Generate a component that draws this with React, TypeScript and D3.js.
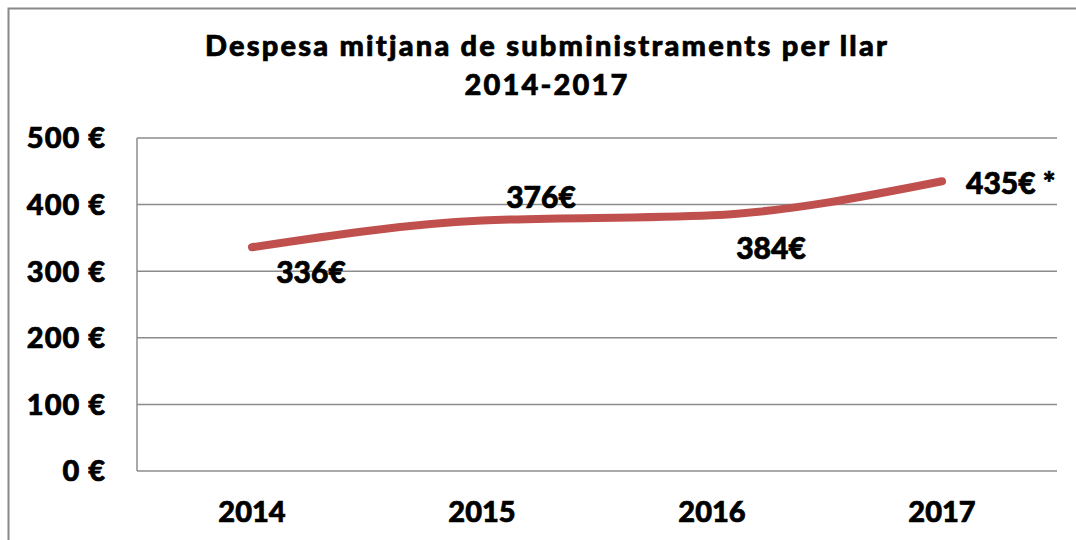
import React from "react";
import * as d3 from "d3";

const years = ["2014", "2015", "2016", "2017"];
const values = [336, 376, 384, 435];
const labels = ["336€", "376€", "384€", "435€ *"];
const yTicks = [0, 100, 200, 300, 400, 500];

const W = 1076, H = 540;
const left = 137, right = 1057, top = 138, bottom = 471;
const FONT = "Lato, 'Open Sans', sans-serif";
const WEIGHT = 900;
const bold = { stroke: "#000", strokeWidth: 0.7 };

export default function App() {
  const x = d3.scaleBand<string>().domain(years).range([left, right]);
  const y = d3.scaleLinear().domain([0, 500]).range([bottom, top]);
  const cx = (d: string) => (x(d) as number) + x.bandwidth() / 2;
  const line = d3
    .line<number>()
    .x((_, i) => cx(years[i]))
    .y((v) => y(v))
    .curve(d3.curveMonotoneX);
  const offs: [number, number, string][] = [
    [59, 25, "middle"],
    [59, -23, "middle"],
    [59, 33, "middle"],
    [24, 2, "start"],
  ];
  return (
    <svg
      width={W}
      height={H}
      style={{ position: "absolute", left: 0, top: 0, background: "#fff" }}
    >
      <rect x={8.5} y={8.5} width={1100} height={560} fill="#fff" stroke="#888" strokeWidth={2} />
      <text
        x={547}
        y={56}
        textAnchor="middle"
        fontFamily={FONT}
        fontWeight={WEIGHT}
        fontSize={29}
        letterSpacing={2.2}
        fill="#000"
        {...bold}
      >
        Despesa mitjana de subministraments per llar
      </text>
      <text
        x={547}
        y={95}
        textAnchor="middle"
        fontFamily={FONT}
        fontWeight={WEIGHT}
        fontSize={29}
        letterSpacing={2.2}
        fill="#000"
        {...bold}
      >
        2014-2017
      </text>
      {yTicks.map((t) => (
        <g key={t}>
          <line x1={left} x2={right} y1={y(t)} y2={y(t)} stroke="#8c8c8c" strokeWidth={1.5} />
          <text
            x={106}
            y={y(t)}
            dy="0.36em"
            textAnchor="end"
            fontFamily={FONT}
            fontWeight={WEIGHT}
            fontSize={29}
            letterSpacing={1}
            fill="#000"
            {...bold}
          >
            {t} €
          </text>
        </g>
      ))}
      <line x1={left} x2={left} y1={top} y2={bottom} stroke="#8c8c8c" strokeWidth={1.5} />
      {years.map((yr) => (
        <text
          key={yr}
          x={cx(yr)}
          y={522}
          textAnchor="middle"
          fontFamily={FONT}
          fontWeight={WEIGHT}
          fontSize={29}
          fill="#000"
          {...bold}
        >
          {yr}
        </text>
      ))}
      <path
        d={line(values) || ""}
        fill="none"
        stroke="#c0504d"
        strokeWidth={8}
        strokeLinecap="round"
        strokeLinejoin="round"
      />
      {values.map((v, i) => (
        <text
          key={i}
          x={cx(years[i]) + offs[i][0]}
          y={y(v) + offs[i][1]}
          dy="0.36em"
          textAnchor={offs[i][2] as any}
          fontFamily={FONT}
          fontWeight={WEIGHT}
          fontSize={30}
          fill="#000"
          {...bold}
        >
          {labels[i]}
        </text>
      ))}
    </svg>
  );
}
